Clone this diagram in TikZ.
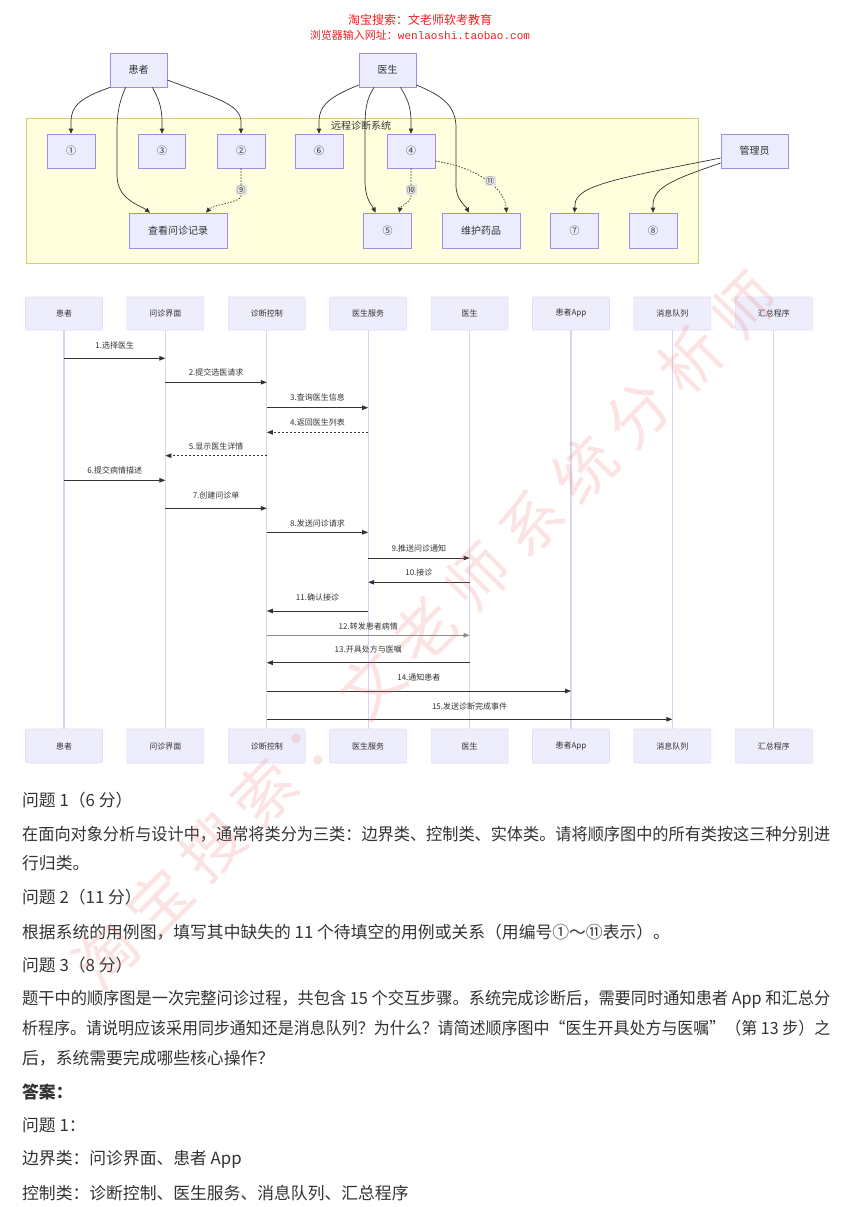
\documentclass[tikz,border=0pt]{standalone}
\usepackage{fontspec}
\usepackage{graphicx}
\setmainfont{Noto Sans CJK SC}
\newfontfamily\urlfont{Liberation Mono}
\usetikzlibrary{arrows.meta,calc}
\definecolor{ucfill}{HTML}{ECECFF}
\definecolor{ucdraw}{HTML}{A38CE0}
\definecolor{sysfill}{HTML}{FFFFDE}
\definecolor{sysdraw}{HTML}{CFCF7A}
\definecolor{txt}{HTML}{333333}
\definecolor{lane}{HTML}{D8D4F2}
\definecolor{seqfill}{HTML}{EDEDFC}
\definecolor{seqdraw}{HTML}{E2DEF6}
\definecolor{hdr}{HTML}{F01E1E}
\definecolor{wmcol}{HTML}{F08080}
\begin{document}
\begin{tikzpicture}[x=1pt,y=-1pt,
  uc/.style={draw=ucdraw, fill=ucfill, line width=0.7pt, minimum height=34pt, inner sep=0pt, font=\fontsize{10}{12}\selectfont, text=txt},
  edge/.style={draw=txt, line width=0.7pt, -{Triangle[length=5pt,width=4.5pt]}},
  dep/.style={edge, dash pattern=on 1.5pt off 1.5pt},
  elabel/.style={fill=black!10, inner sep=1pt, font=\fontsize{9}{10}\selectfont, text=txt},
  actor/.style={draw=seqdraw, fill=seqfill, line width=0.6pt, minimum width=77pt, minimum height=33pt, inner sep=0pt, rounded corners=1pt, font=\fontsize{8}{10}\selectfont, text=txt},
  lifeline/.style={draw=lane, line width=1.2pt},
  msg/.style={draw=txt, line width=0.8pt, -{Triangle[length=6pt,width=4.5pt]}},
  reply/.style={msg, dash pattern=on 2pt off 2pt},
  mlabel/.style={font=\fontsize{8}{10}\selectfont, text=txt, inner sep=0pt},
  body/.style={anchor=west, font=\fontsize{16.8}{20}\selectfont, text=txt, inner sep=0pt},
  wm/.style={font=\fontsize{62}{62}\selectfont, text=wmcol, opacity=0.22, rotate=45.4, inner sep=0pt}
]
\useasboundingbox (0,0) rectangle (852,1207);
\fill[white] (0,0) rectangle (852,1207);

% header
\node[font=\fontsize{12}{14}\selectfont, text=hdr] (h1) at (420,20) {淘宝搜索：文老师软考教育};
\node[font=\fontsize{11}{13}\selectfont, text=hdr] (h2) at (420,35) {浏览器输入网址：{\urlfont wenlaoshi.taobao.com}};

% use case diagram
\node[draw=sysdraw, fill=sysfill, line width=0.8pt, minimum width=672pt, minimum height=145pt, inner sep=0pt, anchor=north west] (sys) at (26,118) {};
\node[font=\fontsize{10}{12}\selectfont, text=txt] (syslabel) at (361,126) {远程诊断系统};

\node[uc, minimum width=57pt] (pat) at (138.5,70) {患者};
\node[uc, minimum width=57pt] (doc) at (387.5,70) {医生};
\node[uc, minimum width=48pt] (u1) at (71,151) {①};
\node[uc, minimum width=47pt] (u3) at (162,151) {③};
\node[uc, minimum width=48pt] (u2) at (241,151) {②};
\node[uc, minimum width=48pt] (u6) at (319,151) {⑥};
\node[uc, minimum width=48pt] (u4) at (411,151) {④};
\node[uc, minimum width=67pt] (adm) at (754.5,151) {管理员};
\node[uc, minimum width=98pt, minimum height=35pt] (rec) at (178,230.5) {查看问诊记录};
\node[uc, minimum width=48pt, minimum height=35pt] (u5) at (387.5,230.5) {⑤};
\node[uc, minimum width=78pt, minimum height=35pt] (med) at (481,230.5) {维护药品};
\node[uc, minimum width=48pt, minimum height=35pt] (u7) at (574.5,230.5) {⑦};
\node[uc, minimum width=48pt, minimum height=35pt] (u8) at (653,230.5) {⑧};

\draw[edge] ([xshift=0.5pt]pat.south west) .. controls (80,98) and (71,106) .. (71,122) -- (u1.north);
\draw[edge] ([xshift=16pt]pat.south west) .. controls (118,105) and (117,115) .. (117,135) -- (117,175) .. controls (117,200) and (140,205) .. ([xshift=-28pt]rec.north);
\draw[edge] ([xshift=-15pt]pat.south east) .. controls (158,98) and (162,106) .. (162,122) -- (u3.north);
\draw[edge] ([yshift=-10pt]pat.east) .. controls (215,98) and (241,104) .. (241,122) -- (u2.north);
\draw[edge] ([yshift=-15pt]doc.west) .. controls (332,96) and (319,104) .. (319,122) -- (u6.north);
\draw[edge] ([xshift=-13.5pt]doc.south) .. controls (366,100) and (365,110) .. (365,130) -- (365,180) .. controls (365,200) and (372,205) .. ([xshift=-12pt]u5.north);
\draw[edge] ([xshift=13pt]doc.south) .. controls (407,98) and (411,106) .. (411,122) -- (u4.north);
\draw[edge] ([yshift=-15pt]doc.east) .. controls (443,96) and (456,106) .. (456,128) -- (456,185) .. controls (456,200) and (465,205) .. ([xshift=-12pt]med.north);
\draw[dep] (u2.south) -- (241,196) .. controls (240,203) and (214,204) .. ([xshift=28pt]rec.north);
\draw[dep] (u4.south) -- (411,196) .. controls (411,203) and (401,205) .. ([xshift=11.5pt]u5.north);
\draw[dep] ([yshift=-10pt]u4.east) .. controls (480,168) and (505,190) .. ([xshift=25.5pt]med.north);
\draw[edge] ([yshift=-7pt]adm.west) .. controls (620,178) and (575,185) .. (575,205) -- (u7.north);
\draw[edge] ([yshift=-12pt]adm.west) .. controls (678,178) and (653,186) .. (653,205) -- (u8.north);
\node[elabel] (l9) at (241,190) {⑨};
\node[elabel] (l10) at (411,190) {⑩};
\node[elabel] (l11) at (490,181) {⑪};

% sequence diagram
\node[actor] (s1) at (64,313.5) {患者};
\node[actor] (s2) at (165.4,313.5) {问诊界面};
\node[actor] (s3) at (266.8,313.5) {诊断控制};
\node[actor] (s4) at (368.2,313.5) {医生服务};
\node[actor] (s5) at (469.6,313.5) {医生};
\node[actor] (s6) at (571,313.5) {患者App};
\node[actor] (s7) at (672.4,313.5) {消息队列};
\node[actor] (s8) at (773.8,313.5) {汇总程序};
\node[actor, minimum height=34pt] (b1) at (64,746) {患者};
\node[actor, minimum height=34pt] (b2) at (165.4,746) {问诊界面};
\node[actor, minimum height=34pt] (b3) at (266.8,746) {诊断控制};
\node[actor, minimum height=34pt] (b4) at (368.2,746) {医生服务};
\node[actor, minimum height=34pt] (b5) at (469.6,746) {医生};
\node[actor, minimum height=34pt] (b6) at (571,746) {患者App};
\node[actor, minimum height=34pt] (b7) at (672.4,746) {消息队列};
\node[actor, minimum height=34pt] (b8) at (773.8,746) {汇总程序};
\foreach \k in {1,...,8} { \draw[lifeline] (s\k.south) -- (b\k.north); }

\draw[msg] (s1 |- 0,358.3) -- (s2 |- 0,358.3);
\node[mlabel] (m1) at (114.7,345) {1.选择医生};
\draw[msg] (s2 |- 0,382.3) -- (s3 |- 0,382.3);
\node[mlabel] (m2) at (216.1,372.7) {2.提交选医请求};
\draw[msg] (s3 |- 0,407.7) -- (s4 |- 0,407.7);
\node[mlabel] (m3) at (317.5,397.7) {3.查询医生信息};
\draw[reply] (s4 |- 0,432.3) -- (s3 |- 0,432.3);
\node[mlabel] (m4) at (317.5,422.7) {4.返回医生列表};
\draw[reply] (s3 |- 0,455.7) -- (s2 |- 0,455.7);
\node[mlabel] (m5) at (216.1,446) {5.显示医生详情};
\draw[msg] (s1 |- 0,480.3) -- (s2 |- 0,480.3);
\node[mlabel] (m6) at (114.7,470.7) {6.提交病情描述};
\draw[msg] (s2 |- 0,508.3) -- (s3 |- 0,508.3);
\node[mlabel] (m7) at (216.1,495) {7.创建问诊单};
\draw[msg] (s3 |- 0,532.3) -- (s4 |- 0,532.3);
\node[mlabel] (m8) at (317.5,523.3) {8.发送问诊请求};
\draw[msg] (s4 |- 0,558) -- (s5 |- 0,558);
\node[mlabel] (m9) at (418.9,548.3) {9.推送问诊通知};
\draw[msg] (s5 |- 0,582.3) -- (s4 |- 0,582.3);
\node[mlabel] (m10) at (418.9,572.7) {10.接诊};
\draw[msg] (s4 |- 0,611) -- (s3 |- 0,611);
\node[mlabel] (m11) at (317.5,597.7) {11.确认接诊};
\draw[msg, draw=black!45, line width=0.5pt] (s3 |- 0,635.3) -- (s5 |- 0,635.3);
\node[mlabel] (m12) at (368.2,626) {12.转发患者病情};
\draw[msg] (s5 |- 0,662.7) -- (s3 |- 0,662.7);
\node[mlabel] (m13) at (368.2,649.3) {13.开具处方与医嘱};
\draw[msg] (s3 |- 0,691) -- (s6 |- 0,691);
\node[mlabel] (m14) at (418.9,677.3) {14.通知患者};
\draw[msg] (s3 |- 0,719.3) -- (s7 |- 0,719.3);
\node[mlabel] (m15) at (469.6,706) {15.发送诊断完成事件};

% text
\node[body] (t1) at (22,800) {问题 1（6 分）};
\node[body] (t2) at (22,834) {\resizebox{808pt}{\height}{在面向对象分析与设计中，通常将类分为三类：边界类、控制类、实体类。请将顺序图中的所有类按这三种分别进}};
\node[body] (t3) at (22,863) {行归类。};
\node[body] (t4) at (22,897) {问题 2（11 分）};
\node[body] (t5) at (22,932) {根据系统的用例图，填写其中缺失的 11 个待填空的用例或关系（用编号①～⑪表示）。};
\node[body] (t6) at (22,965) {问题 3（8 分）};
\node[body] (t7) at (22,999) {\resizebox{808pt}{\height}{题干中的顺序图是一次完整问诊过程，共包含 15 个交互步骤。系统完成诊断后，需要同时通知患者 App 和汇总分}};
\node[body] (t8) at (22,1028) {\resizebox{808pt}{\height}{析程序。请说明应该采用同步通知还是消息队列？为什么？请简述顺序图中“医生开具处方与医嘱”（第 13 步）之}};
\node[body] (t9) at (22,1058) {后，系统需要完成哪些核心操作？};
\node[body, font=\fontsize{16.8}{20}\selectfont\bfseries] (t10) at (22,1092) {答案：};
\node[body] (t11) at (22,1125) {问题 1：};
\node[body] (t12) at (22,1159) {边界类：问诊界面、患者 App};
\node[body] (t13) at (22,1193) {控制类：诊断控制、医生服务、消息队列、汇总程序};

% watermark
\foreach \c [count=\n from 0] in {淘,宝,搜,索,：,文,老,师,系,统,分,析,师} {
  \node[wm] (wm\n) at ($(105,955)!\n/12!(744,306)$) {\c};
}
\end{tikzpicture}
\end{document}
